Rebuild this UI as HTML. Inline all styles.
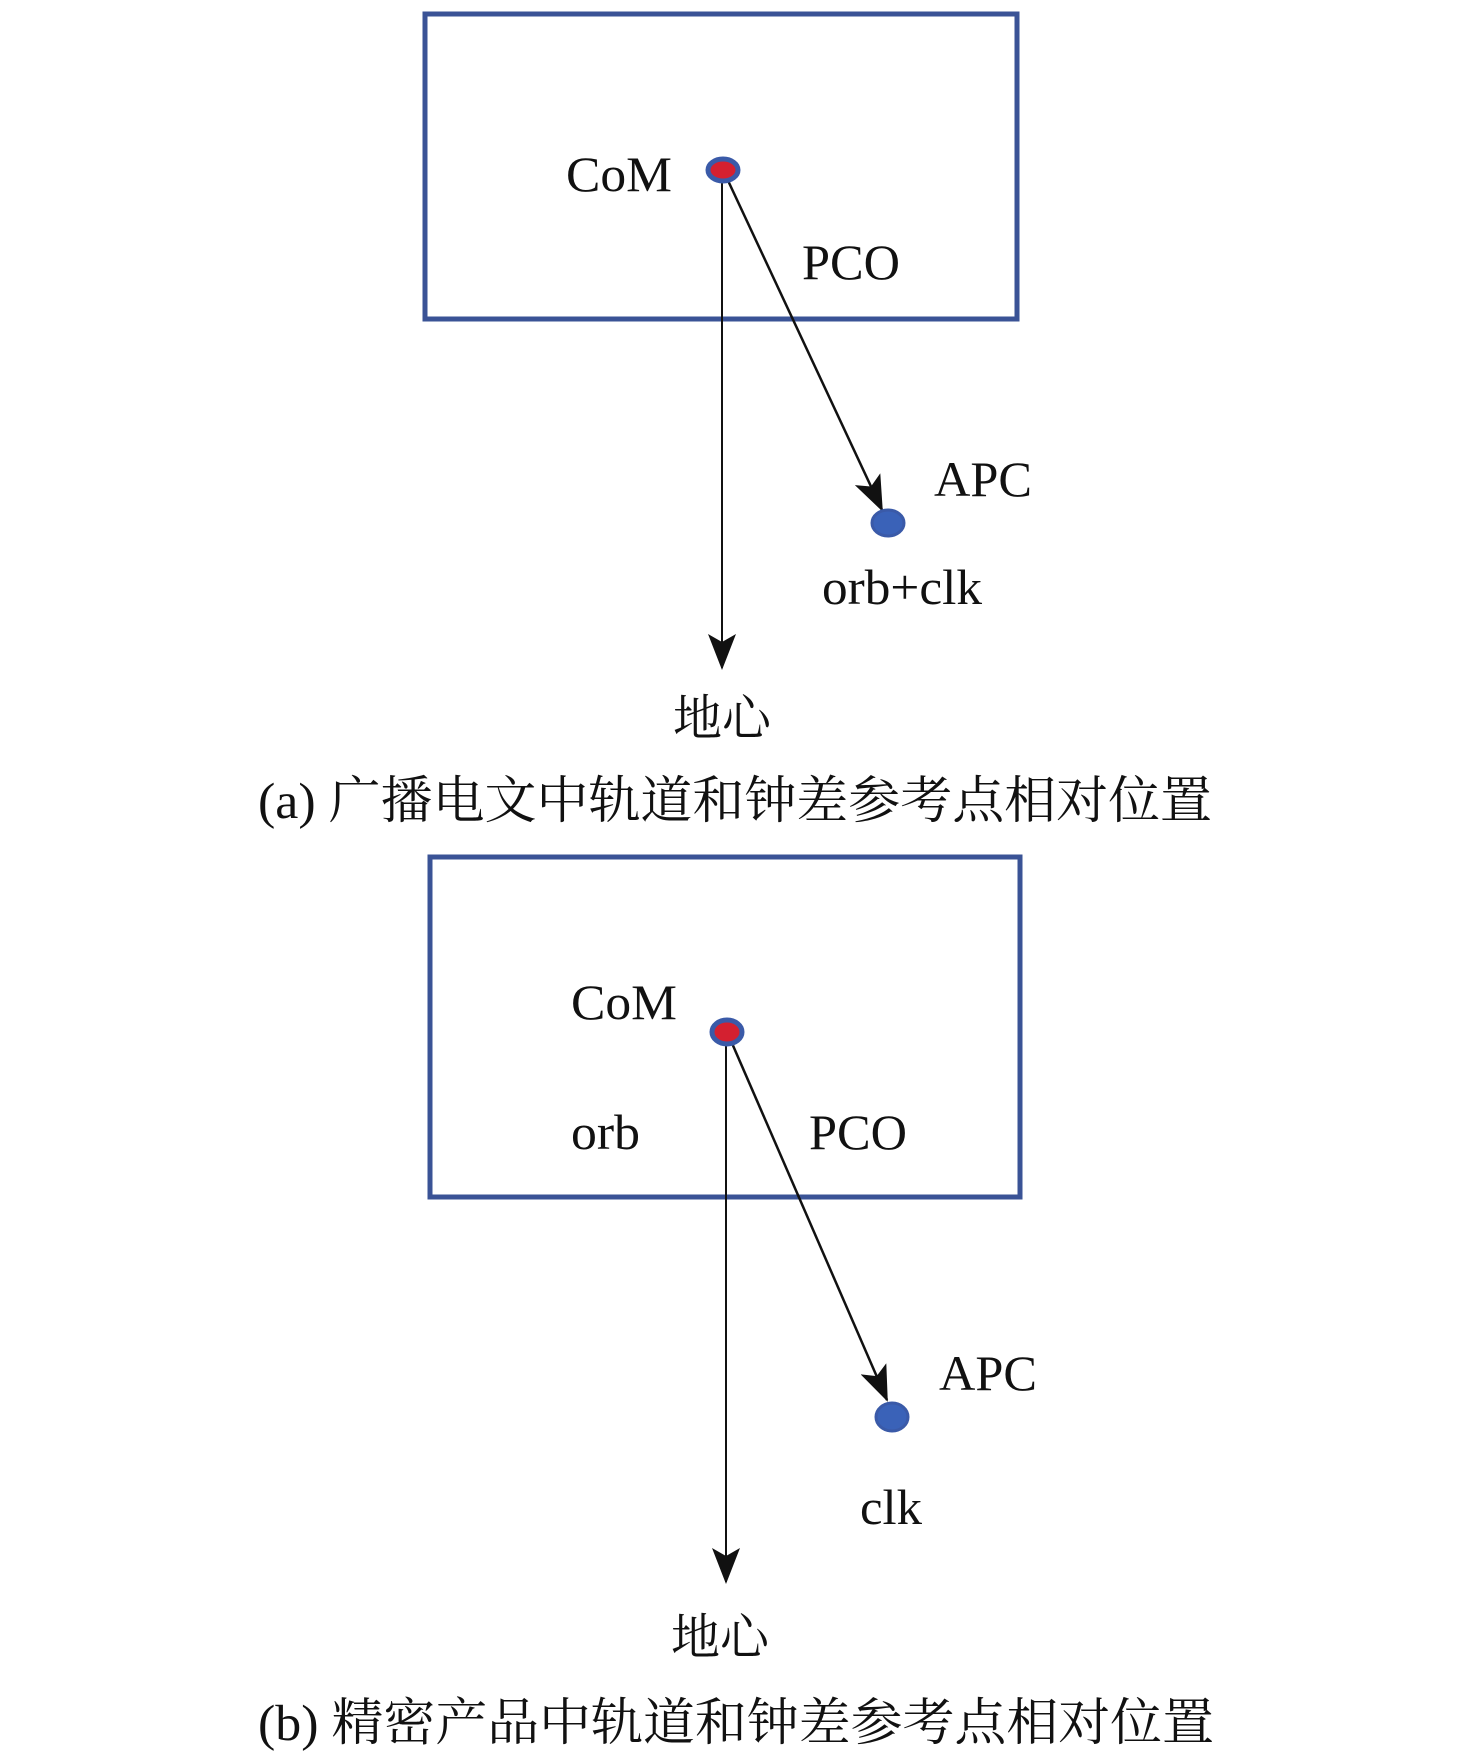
<!DOCTYPE html>
<html><head><meta charset="utf-8"><style>
html,body{margin:0;padding:0;background:#fff;}
svg text{font-family:"Liberation Serif","Noto Serif CJK SC",serif;fill:#111;}
</style></head><body>
<svg width="1476" height="1753" viewBox="0 0 1476 1753" xmlns="http://www.w3.org/2000/svg">
<defs>
<marker id="ah2" markerWidth="36" markerHeight="28" refX="34" refY="14" orient="auto" markerUnits="userSpaceOnUse" viewBox="0 0 36 28">
<path d="M0,0 L36,14 L0,28 L8,14 Z" fill="#111"/>
</marker>
</defs>
<!-- (a) -->
<rect x="425" y="14" width="592" height="305" fill="none" stroke="#3a5396" stroke-width="5"/>
<line x1="722" y1="170" x2="722" y2="668" stroke="#111" stroke-width="2" marker-end="url(#ah2)"/>
<line x1="724" y1="172" x2="882" y2="510" stroke="#111" stroke-width="2.5" marker-end="url(#ah2)"/>
<ellipse cx="723" cy="170" rx="15" ry="11" fill="#d42030" stroke="#3a5aa8" stroke-width="5"/>
<ellipse cx="888" cy="523" rx="16" ry="13" fill="#3a62b8" stroke="#3a5aa8" stroke-width="3"/>
<text x="566" y="191" font-size="50" textLength="106" lengthAdjust="spacingAndGlyphs">CoM</text>
<text x="802" y="279" font-size="50" textLength="98" lengthAdjust="spacingAndGlyphs">PCO</text>
<text x="934" y="496" font-size="50" textLength="98" lengthAdjust="spacingAndGlyphs">APC</text>
<text x="822" y="604" font-size="50" textLength="160" lengthAdjust="spacingAndGlyphs">orb+clk</text>
<text x="673" y="735" font-size="49" textLength="98" lengthAdjust="spacingAndGlyphs">地心</text>
<text x="258" y="818" font-size="51" textLength="954" lengthAdjust="spacingAndGlyphs">(a) 广播电文中轨道和钟差参考点相对位置</text>
<!-- (b) -->
<rect x="430" y="857" width="590" height="340" fill="none" stroke="#3a5396" stroke-width="5"/>
<line x1="726" y1="1032" x2="726" y2="1582" stroke="#111" stroke-width="2" marker-end="url(#ah2)"/>
<line x1="728" y1="1034" x2="887" y2="1400" stroke="#111" stroke-width="2.5" marker-end="url(#ah2)"/>
<ellipse cx="727" cy="1032" rx="15" ry="12" fill="#d42030" stroke="#3a5aa8" stroke-width="5"/>
<ellipse cx="892" cy="1417" rx="16" ry="14" fill="#3a62b8" stroke="#3a5aa8" stroke-width="3"/>
<text x="571" y="1019" font-size="50" textLength="106" lengthAdjust="spacingAndGlyphs">CoM</text>
<text x="571" y="1149" font-size="50" textLength="69" lengthAdjust="spacingAndGlyphs">orb</text>
<text x="809" y="1149" font-size="50" textLength="98" lengthAdjust="spacingAndGlyphs">PCO</text>
<text x="939" y="1390" font-size="50" textLength="98" lengthAdjust="spacingAndGlyphs">APC</text>
<text x="860" y="1524" font-size="50" textLength="62" lengthAdjust="spacingAndGlyphs">clk</text>
<text x="671" y="1654" font-size="49" textLength="98" lengthAdjust="spacingAndGlyphs">地心</text>
<text x="258" y="1740" font-size="51" textLength="956" lengthAdjust="spacingAndGlyphs">(b) 精密产品中轨道和钟差参考点相对位置</text>
</svg>
</body></html>
